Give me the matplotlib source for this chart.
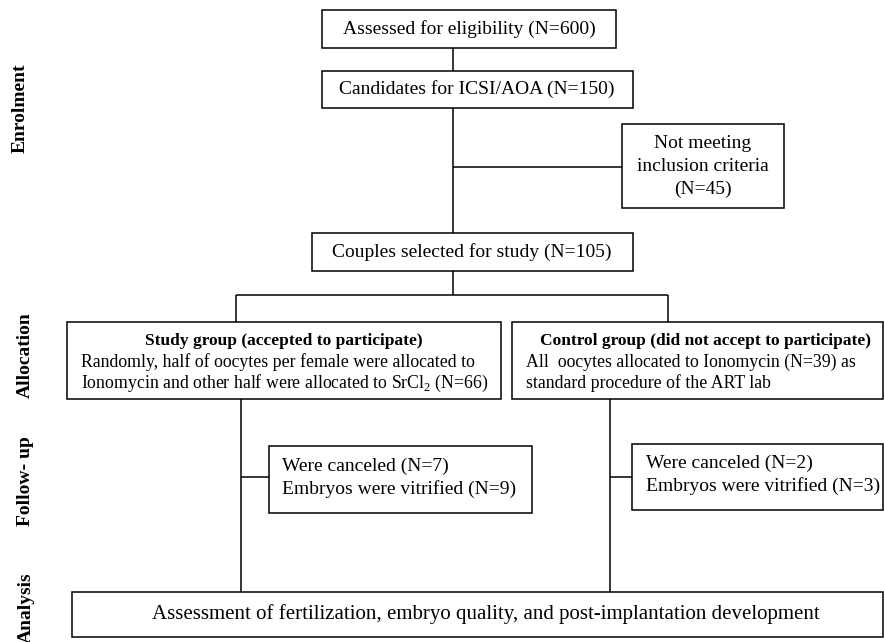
import matplotlib.pyplot as plt
from matplotlib.patches import Rectangle

plt.rcParams["font.family"] = ["Liberation Serif", "DejaVu Serif"]
plt.rcParams["mathtext.fontset"] = "custom"
plt.rcParams["mathtext.rm"] = "Liberation Serif"

# ── flowchart texts ─────────────────────────────────
stage_labels = ["Enrolment", "Allocation", "Follow- up", "Analysis"]
assessed = "Assessed for eligibility (N=600)"
candidates = "Candidates for ICSI/AOA (N=150)"
excluded = ["Not meeting", "inclusion criteria", "(N=45)"]
selected = "Couples selected for study (N=105)"
study_title = "Study group (accepted to participate)"
study_lines = ["Randomly, half of oocytes per female were allocated to",
               r"Ionomycin and other half were allocated to SrCl$_2$ (N=66)"]
control_title = "Control group (did not accept to participate)"
control_lines = ["All  oocytes allocated to Ionomycin (N=39) as",
                 "standard procedure of the ART lab"]
study_follow = ["Were canceled (N=7)", "Embryos were vitrified (N=9)"]
control_follow = ["Were canceled (N=2)", "Embryos were vitrified (N=3)"]
analysis = ("Assessment of fertilization, embryo quality, "
            "and post-implantation development")

W, H = 884, 642
fig = plt.figure(figsize=(W / 100, H / 100), dpi=100)
ax = fig.add_axes([0, 0, 1, 1])
ax.set_xlim(0, W)
ax.set_ylim(H, 0)
ax.axis("off")

LW = 1.1


def box(x0, y0, x1, y1):
    ax.add_patch(Rectangle((x0, y0), x1 - x0, y1 - y0, fill=False,
                           edgecolor="black", lw=LW, clip_on=False))


def line(xs, ys):
    ax.plot(xs, ys, color="black", lw=LW, solid_capstyle="butt")


# ── enrolment ───────────────────────────────────────
box(322, 10, 616, 48)
ax.text(469, 29, assessed, ha="center", va="center", fontsize=14)
line([453, 453], [48, 71])

box(322, 71, 633, 108)
ax.text(477, 89.5, candidates, ha="center", va="center", fontsize=14)
line([453, 453], [108, 233])
line([453, 622], [167, 167])

box(622, 124, 784, 208)
for i, s in enumerate(excluded):
    ax.text(703, 144 + i * 22.5, s, ha="center", va="center", fontsize=14)

box(312, 233, 633, 271)
ax.text(472, 252, selected, ha="center", va="center", fontsize=14)

# ── allocation ──────────────────────────────────────
line([453, 453], [271, 295])
line([236, 668], [295, 295])
line([236, 236], [295, 322])
line([668, 668], [295, 322])

box(67, 322, 501, 399)
ax.text(284, 341, study_title, ha="center", va="center",
        fontsize=12.5, fontweight="bold")
for i, s in enumerate(study_lines):
    ax.text(81, 362 + i * 21.5, s, ha="left", va="center", fontsize=12.75)

box(512, 322, 883, 399)
ax.text(706, 341, control_title, ha="center", va="center",
        fontsize=12.5, fontweight="bold")
for i, s in enumerate(control_lines):
    ax.text(526, 362 + i * 21.5, s, ha="left", va="center", fontsize=12.75)

# ── follow-up ───────────────────────────────────────
line([241, 241], [399, 592])
line([241, 269], [477, 477])
box(269, 446, 532, 513)
for i, s in enumerate(study_follow):
    ax.text(282, 466 + i * 23, s, ha="left", va="center", fontsize=14)

line([610, 610], [399, 592])
line([610, 632], [477, 477])
box(632, 444, 883, 510)
for i, s in enumerate(control_follow):
    ax.text(646, 463.5 + i * 23, s, ha="left", va="center", fontsize=14)

# ── analysis ────────────────────────────────────────
box(72, 592, 883, 637)
ax.text(486, 614.5, analysis, ha="center", va="center", fontsize=15)

# ── stage labels on the left ────────────────────────
stage_x = [20, 25, 26, 26]
stage_y = [108, 355, 481, 608]
for lab, xx, yy in zip(stage_labels, stage_x, stage_y):
    ax.text(xx, yy, lab, rotation=90, ha="center", va="center",
            fontsize=14, fontweight="bold")

fig.savefig("out.png", dpi=100)
